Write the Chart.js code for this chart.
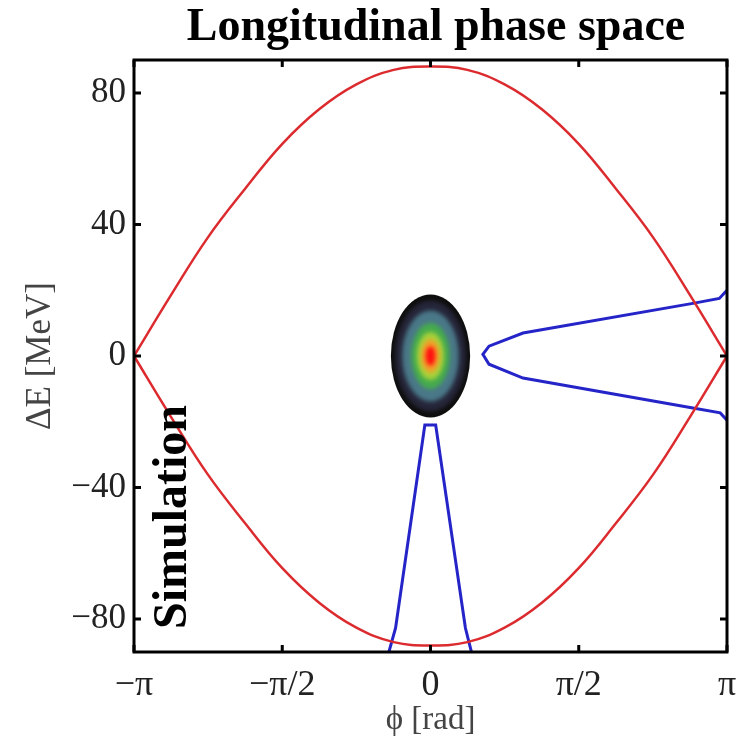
<!DOCTYPE html>
<html>
<head>
<meta charset="utf-8">
<script src="https://cdn.jsdelivr.net/npm/chart.js@4/dist/chart.umd.min.js"></script>
<style>
  html, body { margin: 0; padding: 0; background: #fff; }
  #wrap { width: 738px; height: 745px; }
</style>
</head>
<body>
<div id="wrap"><canvas id="phaseChart" width="738" height="745"></canvas></div>
<script>
// separatrix (red)
const sepPhi   = [-3.1416, -2.75, -2.36, -1.96, -1.57, -1.18, -0.79, -0.39, 0, 0.39, 0.79, 1.18, 1.57, 1.96, 2.36, 2.75, 3.1416];
const sepUpper = [0, 18.5, 36, 51, 64.5, 75, 82.5, 87, 88, 87, 82.5, 75, 64.5, 51, 36, 18.5, 0];
const sepLower = [0, -18.5, -36, -51, -64.5, -75, -82.5, -87, -88, -87, -82.5, -75, -64.5, -51, -36, -18.5, 0];

// blue trajectory on the right
const trapPhi = [3.1416, 3.06, 2.78, 0.98, 0.62, 0.555, 0.62, 0.98, 2.78, 3.07, 3.1416];
const trapE   = [20, 17.5, 16, 7, 3, 0.5, -2.5, -6.7, -15.8, -17.3, -19.5];

// blue trajectory at the bottom
const tailPhi = [-0.47, -0.37, -0.06, 0.055, 0.37, 0.46];
const tailE   = [-93, -82.7, -21, -21, -82.7, -93];

// bunch density contours (half widths in rad, half heights in MeV), centred at 0,0
const bunchCenter = [0, 0];
const bunchRx = [0.42, 0.375, 0.30, 0.205, 0.145, 0.10, 0.053];
const bunchRy = [18.7, 16.8, 13.8, 10.0, 7.3, 5.1, 3.0];
const bunchColors = ['#0e0e0e', '#26263a', '#4a7888', '#45ab4c', '#a6d13a', '#f3a02a', '#ff1010'];

// axes
const xTicks = [-Math.PI, -Math.PI / 2, 0, Math.PI / 2, Math.PI];
const xTickLabels = ['\u2212\u03c0', '\u2212\u03c0/2', '0', '\u03c0/2', '\u03c0'];
const yTicks = [-80, -40, 0, 40, 80];

const serif = "'Liberation Serif', 'Times New Roman', serif";

function pts(xs, ys) {
  return xs.map((x, i) => ({ x: x, y: ys[i] }));
}

const decorPlugin = {
  id: 'decor',
  afterDatasetsDraw(chart) {
    const ctx = chart.ctx;
    const xs = chart.scales.x, ys = chart.scales.y;
    const a = chart.chartArea;

    // bunch
    const cx = xs.getPixelForValue(bunchCenter[0]);
    const cy = ys.getPixelForValue(bunchCenter[1]);
    ctx.save();
    for (let i = 0; i < bunchRx.length; i++) {
      const rx = xs.getPixelForValue(bunchRx[i]) - cx;
      const ry = cy - ys.getPixelForValue(bunchRy[i]);
      ctx.filter = i === 0 ? 'none' : 'blur(2px)';
      ctx.fillStyle = bunchColors[i];
      ctx.beginPath();
      ctx.ellipse(cx, cy, rx, ry, 0, 0, Math.PI * 2);
      ctx.fill();
    }
    ctx.restore();

    // frame and inward ticks
    ctx.save();
    ctx.strokeStyle = '#000';
    ctx.lineWidth = 3;
    ctx.strokeRect(a.left, a.top, a.right - a.left, a.bottom - a.top);
    ctx.beginPath();
    xTicks.forEach(v => {
      const p = xs.getPixelForValue(v);
      ctx.moveTo(p, a.bottom); ctx.lineTo(p, a.bottom - 7);
      ctx.moveTo(p, a.top); ctx.lineTo(p, a.top + 7);
    });
    yTicks.forEach(v => {
      const p = ys.getPixelForValue(v);
      ctx.moveTo(a.left, p); ctx.lineTo(a.left + 7, p);
      ctx.moveTo(a.right, p); ctx.lineTo(a.right - 7, p);
    });
    ctx.stroke();

    // "Simulation" tag
    ctx.fillStyle = '#000';
    ctx.font = 'bold 48px ' + serif;
    ctx.textAlign = 'center';
    ctx.textBaseline = 'alphabetic';
    ctx.translate(186, 517);
    ctx.rotate(-Math.PI / 2);
    ctx.fillText('Simulation', 0, 0);
    ctx.restore();

    // title
    ctx.save();
    ctx.fillStyle = '#000';
    ctx.font = 'bold 46px ' + serif;
    ctx.textAlign = 'center';
    ctx.textBaseline = 'alphabetic';
    ctx.fillText('Longitudinal phase space', 436, 40);
    ctx.restore();
  }
};

const ctx = document.getElementById('phaseChart').getContext('2d');
const phaseChart = new Chart(ctx, {
  type: 'scatter',
  data: {
    datasets: [
      { data: pts(sepPhi, sepUpper), showLine: true, borderColor: '#dc2b2f', borderWidth: 2.5, pointRadius: 0, tension: 0.4 },
      { data: pts(sepPhi, sepLower), showLine: true, borderColor: '#dc2b2f', borderWidth: 2.5, pointRadius: 0, tension: 0.4 },
      { data: pts(trapPhi, trapE), showLine: true, borderColor: '#2424c8', borderWidth: 3, pointRadius: 0, tension: 0 },
      { data: pts(tailPhi, tailE), showLine: true, borderColor: '#2424c8', borderWidth: 3, pointRadius: 0, tension: 0 }
    ]
  },
  options: {
    responsive: false,
    animation: false,
    layout: { padding: { top: 60, right: 11, left: 0, bottom: 0 } },
    plugins: { legend: { display: false }, tooltip: { enabled: false }, title: { display: false } },
    scales: {
      x: {
        type: 'linear',
        min: -Math.PI, max: Math.PI,
        afterBuildTicks: s => { s.ticks = xTicks.map(v => ({ value: v })); },
        afterFit: s => { s.height = 93; s.paddingLeft = 0; s.paddingRight = 0; },
        grid: { display: false, drawTicks: false },
        border: { display: false },
        ticks: {
          padding: 12,
          color: '#222',
          font: { family: serif, size: 36 },
          callback: (v) => {
            const i = xTicks.findIndex(t => Math.abs(t - v) < 1e-6);
            return i >= 0 ? xTickLabels[i] : '';
          }
        },
        title: { display: true, text: '\u03d5 [rad]', color: '#444', font: { family: serif, size: 33 }, padding: { top: 0, bottom: 5 } }
      },
      y: {
        type: 'linear',
        min: -90, max: 90,
        afterBuildTicks: s => { s.ticks = yTicks.map(v => ({ value: v })); },
        afterFit: s => { s.width = 134; s.paddingTop = 0; s.paddingBottom = 0; },
        grid: { display: false, drawTicks: false },
        border: { display: false },
        ticks: {
          padding: 8,
          color: '#222',
          font: { family: serif, size: 35 },
          callback: (v) => (v < 0 ? '\u2212' + Math.abs(v) : String(v))
        },
        title: { display: true, text: '\u0394E [MeV]', color: '#444', font: { family: serif, size: 35 }, padding: { top: 20, bottom: 0 } }
      }
    }
  },
  plugins: [decorPlugin]
});
</script>
</body>
</html>
